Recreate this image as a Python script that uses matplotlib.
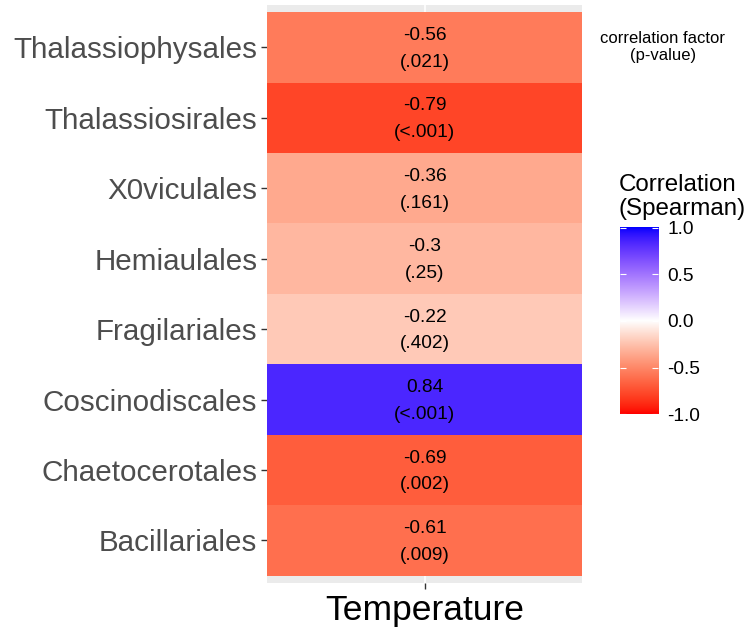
import numpy as np
import matplotlib
matplotlib.use('Agg')
import matplotlib.pyplot as plt
from matplotlib.colors import ListedColormap, Normalize

plt.rcParams['font.family'] = ['Liberation Sans', 'DejaVu Sans']

# Spearman correlation of each order with temperature
orders = ['Thalassiophysales', 'Thalassiosirales', 'X0viculales', 'Hemiaulales',
          'Fragilariales', 'Coscinodiscales', 'Chaetocerotales', 'Bacillariales']
rho = [-0.56, -0.79, -0.36, -0.3, -0.22, 0.84, -0.69, -0.61]
pvals = ['.021', '<.001', '.161', '.25', '.402', '<.001', '.002', '.009']
variable = 'Temperature'


# sRGB <-> CIELAB helpers so the diverging ramp blends like scale_fill_gradient2
def srgb_to_lab(rgb):
    rgb = np.asarray(rgb, float)
    lin = np.where(rgb <= 0.04045, rgb / 12.92, ((rgb + 0.055) / 1.055) ** 2.4)
    M = np.array([[0.4124, 0.3576, 0.1805],
                  [0.2126, 0.7152, 0.0722],
                  [0.0193, 0.1192, 0.9505]])
    xyz = M @ lin / np.array([0.95047, 1.0, 1.08883])
    f = np.where(xyz > 0.008856, np.cbrt(xyz), 7.787 * xyz + 16 / 116)
    return np.array([116 * f[1] - 16, 500 * (f[0] - f[1]), 200 * (f[1] - f[2])])


def lab_to_srgb(lab):
    L, a, b = lab
    fy = (L + 16) / 116
    fx = fy + a / 500
    fz = fy - b / 200
    f = np.array([fx, fy, fz])
    xyz = np.where(f ** 3 > 0.008856, f ** 3, (f - 16 / 116) / 7.787)
    xyz = xyz * np.array([0.95047, 1.0, 1.08883])
    Minv = np.array([[3.2406, -1.5372, -0.4986],
                     [-0.9689, 1.8758, 0.0415],
                     [0.0557, -0.2040, 1.0570]])
    lin = Minv @ xyz
    lin = np.clip(lin, 0, 1)
    rgb = np.where(lin <= 0.0031308, 12.92 * lin, 1.055 * lin ** (1 / 2.4) - 0.055)
    return np.clip(rgb, 0, 1)


low, mid, high = srgb_to_lab([1, 0, 0]), srgb_to_lab([1, 1, 1]), srgb_to_lab([0, 0, 1])
ramp = []
for t in np.linspace(-1, 1, 512):
    if t < 0:
        lab = mid + (low - mid) * (-t)
    else:
        lab = mid + (high - mid) * t
    # a little extra contrast on the channels
    ramp.append(lab_to_srgb(lab) ** 1.3)
cmap = ListedColormap(ramp)
norm = Normalize(-1, 1)

fig = plt.figure(figsize=(7.5, 6.3), dpi=100)
ax = fig.add_axes([0.356, 0.075, 0.42, 0.917])
ax.set_facecolor('#EBEBEB')

n = len(orders)
ypos = np.arange(n, 0, -1)
for name, r, p, y in zip(orders, rho, pvals, ypos):
    ax.add_patch(plt.Rectangle((0.5, y - 0.5), 1, 1, facecolor=cmap(norm(r)),
                               edgecolor='none', zorder=2))
    ax.text(1, y + 0.17, f'{r:g}', ha='center', va='center', fontsize=13.8, zorder=3)
    ax.text(1, y - 0.21, f'({p})', ha='center', va='center', fontsize=13.8, zorder=3)

ax.axvline(1, color='white', lw=1.2, zorder=1)
ax.set_xlim(0.5, 1.5)
ax.set_ylim(0.4, n + 0.6)
ax.set_xticks([1])
ax.set_xticklabels([variable], fontsize=25.5)
ax.set_yticks(ypos)
ax.set_yticklabels(orders, fontsize=21.3, color='#4D4D4D')
ax.tick_params(axis='both', length=4, width=1, color='#333333', pad=3)
ax.tick_params(axis='x', pad=4)
for s in ax.spines.values():
    s.set_visible(False)

fig.text(0.884, 0.925, 'correlation factor\n(p-value)', ha='center', va='center',
         fontsize=12, linespacing=1.2)

# colour bar legend
cax = fig.add_axes([0.826, 0.338, 0.051, 0.305])
grad = np.linspace(-1, 1, 300).reshape(-1, 1)
cax.imshow(grad, cmap=cmap, norm=norm, aspect='auto', origin='lower',
           extent=[0, 1, -1, 1])
cax.set_xticks([])
cax.set_yticks([-1, -0.5, 0, 0.5, 1])
cax.set_yticklabels(['-1.0', '-0.5', '0.0', '0.5', '1.0'], fontsize=13.8)
cax.tick_params(axis='y', direction='in', length=4, width=0.8, color='white',
                left=True, right=True, labelleft=False, labelright=True, pad=7)
cax.set_ylim(-1.03, 1.03)
for s in cax.spines.values():
    s.set_visible(False)
fig.text(0.825, 0.688, 'Correlation\n(Spearman)', ha='left', va='center',
         fontsize=17.4, linespacing=1.12)

fig.savefig('out.png', dpi=100)
